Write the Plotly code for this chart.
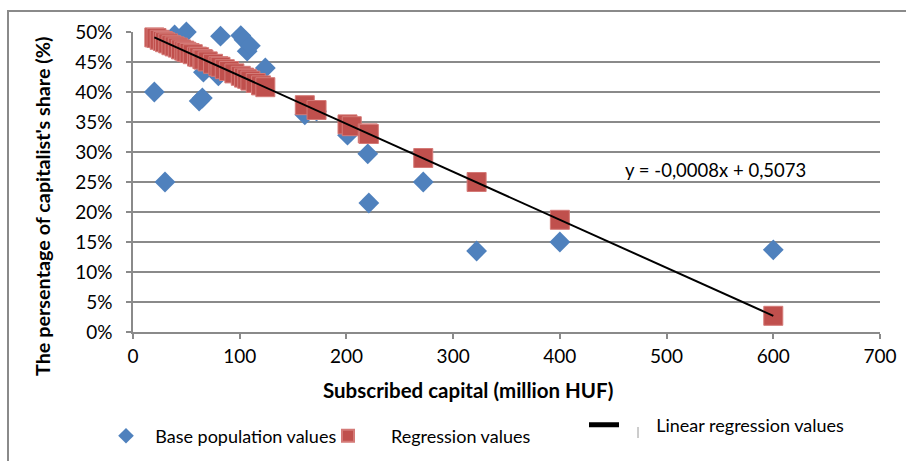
import plotly.graph_objects as go

# ---- data ----
x_base = [20, 22, 25, 28, 30, 33, 36, 39, 42, 45, 48, 50, 53, 56, 60, 62, 65, 66, 70, 75,
          80, 82, 86, 90, 95, 101, 104, 107, 110, 115, 120, 124, 161, 172, 201, 205, 220,
          221, 272, 322, 400, 600]
y_base = [0.40, 0.488, 0.485, 0.482, 0.25, 0.48, 0.478, 0.495, 0.472, 0.47, 0.468, 0.50,
          0.463, 0.46, 0.457, 0.385, 0.39, 0.433, 0.45, 0.445, 0.427, 0.493, 0.437, 0.433,
          0.43, 0.494, 0.487, 0.468, 0.477, 0.414, 0.41, 0.44, 0.362, 0.368, 0.328, 0.342,
          0.297, 0.215, 0.25, 0.135, 0.15, 0.137]
y_reg = [0.491, 0.490, 0.487, 0.485, 0.483, 0.481, 0.478, 0.476, 0.474, 0.471, 0.469,
         0.467, 0.465, 0.463, 0.459, 0.458, 0.455, 0.454, 0.451, 0.447, 0.443, 0.442,
         0.438, 0.435, 0.431, 0.427, 0.424, 0.422, 0.419, 0.415, 0.411, 0.408, 0.378,
         0.370, 0.346, 0.343, 0.331, 0.330, 0.290, 0.250, 0.187, 0.027]
lin_x = [20, 600]
lin_y = [0.491, 0.027]
equation = "y = -0,0008x + 0,5073"
x_ticks = [0, 100, 200, 300, 400, 500, 600, 700]
y_ticks = [0, 0.05, 0.10, 0.15, 0.20, 0.25, 0.30, 0.35, 0.40, 0.45, 0.50]

FONT = "Lato"
GRID = "#8a8a8a"
BLUE = "#4F81BD"
RED = "#C0504D"
NB = "\u00a0"

fig = go.Figure()
fig.add_trace(go.Scatter(
    x=x_base, y=y_base, mode="markers", name=NB * 2 + "Base population values",
    marker=dict(symbol="diamond", size=16, color=BLUE, line=dict(width=0)),
    cliponaxis=False, legend="legend"))
fig.add_trace(go.Scatter(
    x=x_base, y=y_reg, mode="markers", name=NB * 5 + "Regression values",
    marker=dict(symbol="square", size=19, color=RED, line=dict(width=1, color="#d47a77")),
    cliponaxis=False, legend="legend2"))
fig.add_trace(go.Scatter(
    x=lin_x, y=lin_y, mode="lines", name=NB * 7 + "Linear regression values",
    line=dict(color="black", width=2), cliponaxis=False, legend="legend3"))

W, H = 906, 461
L, R, T, B = 133, 26, 32, 129
pw, ph = W - L - R, H - T - B

def px_x(p):
    return (p - L) / pw

def px_y(p):
    return (H - B - p) / ph

leg_common = dict(orientation="h", bgcolor="rgba(0,0,0,0)", xanchor="left", yanchor="middle",
                  font=dict(family=FONT, size=18, color="#000000"), itemsizing="constant")

fig.update_layout(
    width=W, height=H,
    margin=dict(l=L, r=R, t=T, b=B, autoexpand=False),
    paper_bgcolor="white", plot_bgcolor="white",
    font=dict(family=FONT, size=18, color="#000000"),
    showlegend=True,
    legend=dict(x=px_x(106), y=px_y(436), **leg_common),
    legend2=dict(x=px_x(328), y=px_y(436), **leg_common),
    legend3=dict(x=px_x(584), y=px_y(425), **leg_common),
    xaxis=dict(range=[0, 700], tickvals=x_ticks, ticktext=[str(v) for v in x_ticks],
               showgrid=False, zeroline=False, showline=True, linecolor=GRID, linewidth=1.5,
               ticks="outside", ticklen=5, tickcolor=GRID, tickwidth=1.5,
               ticklabelstandoff=1,
               tickfont=dict(family=FONT, size=19, color="#000000")),
    yaxis=dict(range=[0, 0.5], tickvals=y_ticks,
               ticktext=[f"{int(round(v*100))}%" for v in y_ticks],
               showgrid=True, gridcolor=GRID, gridwidth=1.5, zeroline=False,
               showline=True, linecolor=GRID, linewidth=1.5,
               ticks="outside", ticklen=5, tickcolor=GRID, tickwidth=1.5,
               ticklabelstandoff=10,
               tickfont=dict(family=FONT, size=19, color="#000000")),
    annotations=[
        dict(text="<b>Subscribed capital (million HUF)</b>", xref="paper", yref="paper",
             x=px_x(468), y=px_y(390), showarrow=False, xanchor="center", yanchor="middle",
             font=dict(family=FONT, size=20.5, color="#000000")),
        dict(text="<b>The persentage of capitalist's share (%)</b>", xref="paper", yref="paper",
             x=px_x(42), y=px_y(207), showarrow=False, textangle=-90,
             xanchor="center", yanchor="middle",
             font=dict(family=FONT, size=19.8, color="#000000")),
        dict(text=equation, xref="paper", yref="paper", x=px_x(623), y=px_y(170),
             showarrow=False, xanchor="left", yanchor="middle",
             font=dict(family=FONT, size=18.5, color="#000000")),
    ],
    shapes=[
        dict(type="rect", xref="paper", yref="paper", layer="above",
             x0=px_x(8), x1=px_x(1000), y0=px_y(600), y1=px_y(11),
             fillcolor="rgba(0,0,0,0)", line=dict(color=GRID, width=2)),
        dict(type="line", xref="paper", yref="paper", layer="above",
             x0=px_x(638), x1=px_x(638),
             y0=px_y(427), y1=px_y(438), line=dict(color="#9a9a9a", width=1)),
    ],
)

fig.write_html("out.html", config={"displayModeBar": False},
               post_script="document.body.style.margin='0';document.body.style.overflow='hidden';")
